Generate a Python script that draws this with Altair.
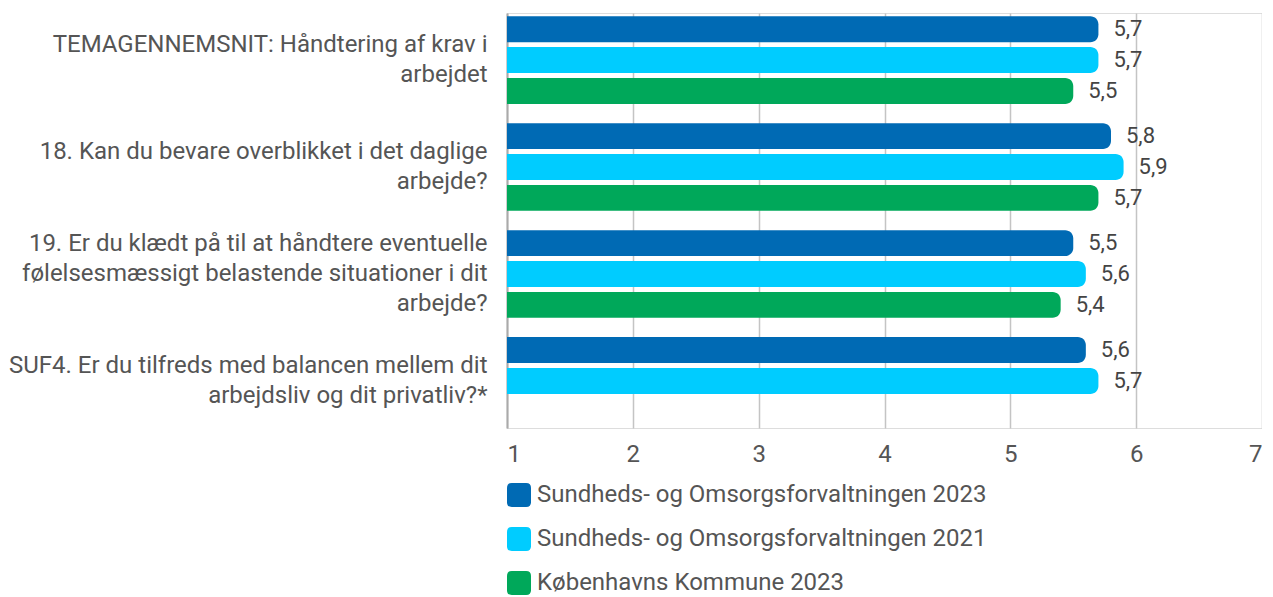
import altair as alt
import pandas as pd

categories = [
    "TEMAGENNEMSNIT: Håndtering af krav i|arbejdet",
    "18. Kan du bevare overblikket i det daglige|arbejde?",
    "19. Er du klædt på til at håndtere eventuelle|følelsesmæssigt belastende situationer i dit|arbejde?",
    "SUF4. Er du tilfreds med balancen mellem dit|arbejdsliv og dit privatliv?*",
]
series = [
    "Sundheds- og Omsorgsforvaltningen 2023",
    "Sundheds- og Omsorgsforvaltningen 2021",
    "Københavns Kommune 2023",
]
colors = ["#006AB4", "#00CCFF", "#00A85A"]

values_sof2023 = [5.7, 5.8, 5.5, 5.6]
values_sof2021 = [5.7, 5.9, 5.6, 5.7]
values_kk2023 = [5.5, 5.7, 5.4, None]

rows = []
for s, vals in zip(series, [values_sof2023, values_sof2021, values_kk2023]):
    for c, v in zip(categories, vals):
        if v is not None:
            rows.append({"category": c, "series": s, "value": v})
df = pd.DataFrame(rows)

FONT = "Roboto"
rounded = "M-0.6,-1H0.6Q1,-1,1,-0.6V0.6Q1,1,0.6,1H-0.6Q-1,1,-1,0.6V-0.6Q-1,-1,-0.6,-1Z"

y_enc = alt.Y(
    "category:N",
    sort=categories,
    title=None,
    scale=alt.Scale(paddingInner=0.18, paddingOuter=0.03),
    axis=alt.Axis(
        labelExpr="split(datum.label, '|')",
        labelFont=FONT,
        labelFontSize=24,
        labelColor="#555555",
        labelLimit=700,
        labelPadding=20,
        labelLineHeight=30,
        ticks=False,
        domainColor="#aaaaaa",
        domainWidth=2,
        minExtent=499,
        maxExtent=499,
        grid=False,
        labelOffset={
            "condition": {"test": "length(split(datum.value, '|')) == 3", "value": -30},
            "value": -15,
        },
    ),
)
yoff = alt.YOffset("series:N", sort=series, scale=alt.Scale(paddingInner=0.16))

x_enc = alt.X(
    "value:Q",
    title=None,
    scale=alt.Scale(domain=[1, 7], zero=False, nice=False),
    axis=alt.Axis(
        values=[1, 2, 3, 4, 5, 6, 7],
        labelFont=FONT,
        labelFontSize=24,
        labelColor="#555555",
        labelPadding=14,
        ticks=False,
        domain=False,
        gridColor="#c4c4c4",
        gridWidth=1.5,
        format="d",
    ),
)

color_enc = alt.Color(
    "series:N",
    sort=series,
    scale=alt.Scale(domain=series, range=colors),
    legend=alt.Legend(
        title=None,
        orient="none",
        legendX=0,
        legendY=470,
        direction="vertical",
        symbolType=rounded,
        symbolSize=576,
        symbolStrokeWidth=0,
        labelFont=FONT,
        labelFontSize=24,
        labelColor="#555555",
        labelOffset=6,
        rowPadding=20,
        labelLimit=700,
    ),
)

bars = alt.Chart(df).mark_bar(
    cornerRadiusTopRight=8, cornerRadiusBottomRight=8
).encode(
    y=y_enc,
    yOffset=yoff,
    x=x_enc,
    x2=alt.datum(1),
    color=color_enc,
)

labels = alt.Chart(df).transform_calculate(
    lbl="replace(format(datum.value, '.1f'), '.', ',')"
).mark_text(
    align="left", baseline="middle", dx=15, font=FONT, fontSize=22, color="#444444"
).encode(
    y=alt.Y("category:N", sort=categories),
    yOffset=alt.YOffset("series:N", sort=series),
    x="value:Q",
    text="lbl:N",
)

chart = alt.layer(bars, labels).properties(
    width=755, height=415, padding={"left": 0, "top": 5, "right": 0, "bottom": 0}
).configure_view(stroke=None).configure(background="white")

chart.save("out.html", embed_options={"renderer": "svg", "actions": False})
